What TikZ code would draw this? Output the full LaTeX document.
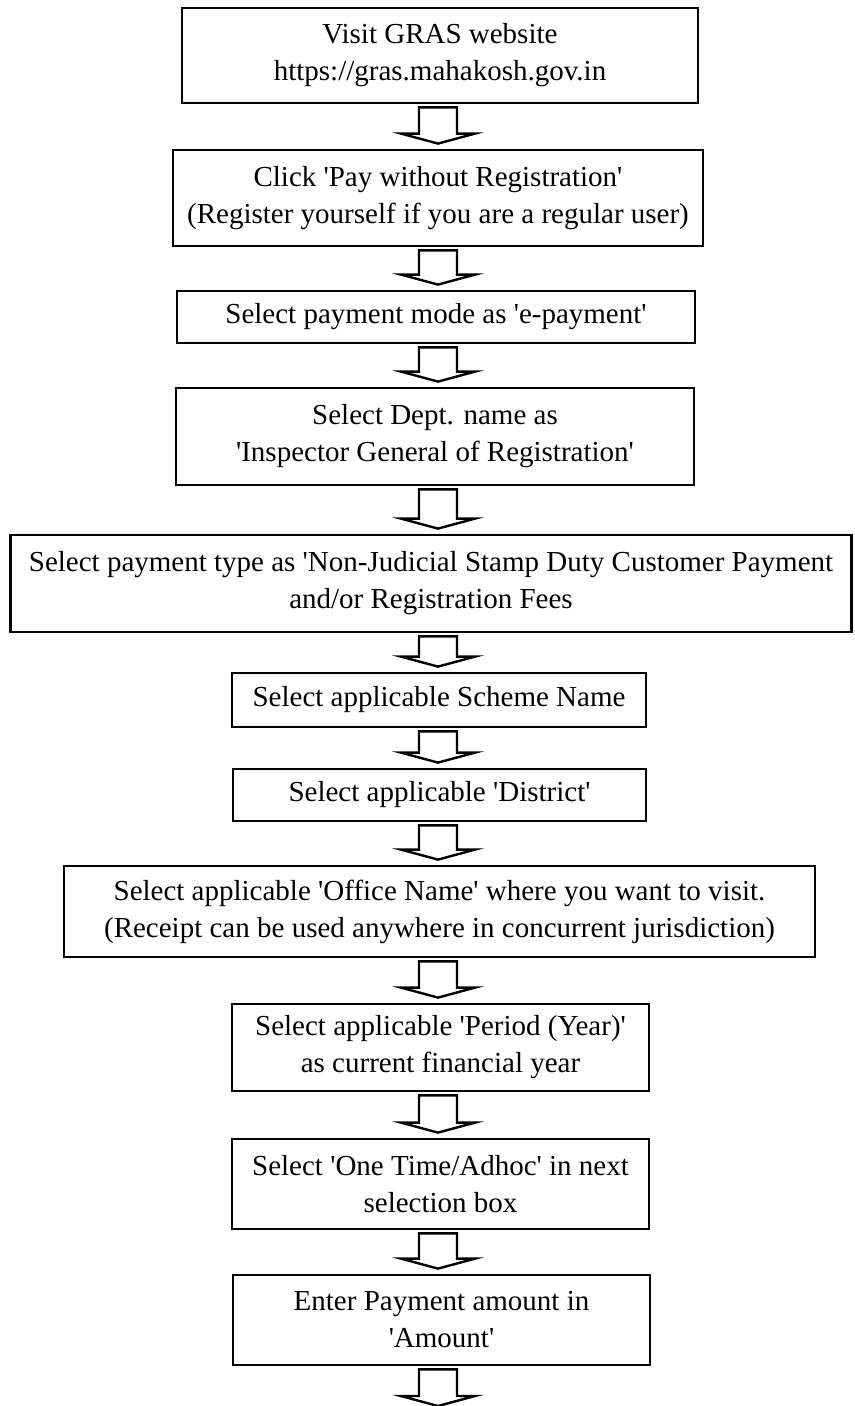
\documentclass[tikz,border=0pt]{standalone}
\usepackage{fontspec}
\setmainfont{Liberation Serif}[Ligatures=TeXOff]
\usetikzlibrary{calc}

\tikzset{
  stepbox/.style={draw, line width=1.4pt, align=center, inner sep=0pt, font=\fontsize{14.5}{18.5}\selectfont},
  blockarrow/.style={draw, line width=1.2pt, line join=miter},
}

\begin{document}
\begin{tikzpicture}[x=0.5pt,y=-0.5pt]
    \useasboundingbox (0,0) rectangle (855,1406);
    \coordinate (axis) at (438,0);

    % steps, top to bottom
    \node[stepbox, minimum width=258pt, minimum height=47.5pt] (visit) at (440,55.5) {Visit GRAS website\\https://gras.mahakosh.gov.in};
    \node[stepbox, minimum width=265pt, minimum height=48pt] (click) at (438,198) {Click 'Pay without Registration'\\(Register yourself if you are a regular user)};
    \node[stepbox, minimum width=259pt, minimum height=26pt] (mode) at (436,317) {Select payment mode as 'e-payment'};
    \node[stepbox, minimum width=259pt, minimum height=48.5pt] (dept) at (435,436.5) {Select Dept. name as\\'Inspector General of Registration'};
    \node[stepbox, minimum width=420.5pt, minimum height=48.5pt] (ptype) at (431,583.5) {Select payment type as 'Non-Judicial Stamp Duty Customer Payment\\and/or Registration Fees};
    \node[stepbox, minimum width=207pt, minimum height=27pt] (scheme) at (439,700) {Select applicable Scheme Name};
    \node[stepbox, minimum width=206.5pt, minimum height=26pt] (district) at (439.5,795) {Select applicable 'District'};
    \node[stepbox, minimum width=375.5pt, minimum height=45.5pt] (office) at (439.5,911.5) {Select applicable 'Office Name' where you want to visit.\\(Receipt can be used anywhere in concurrent jurisdiction)};
    \node[stepbox, minimum width=208.5pt, minimum height=43.5pt] (period) at (440.5,1047.5) {Select applicable 'Period (Year)'\\as current financial year};
    \node[stepbox, minimum width=208.5pt, minimum height=45pt] (onetime) at (440.5,1184) {Select 'One Time/Adhoc' in next\\selection box};
    \node[stepbox, minimum width=208.5pt, minimum height=45pt] (amount) at (441.5,1320) {Enter Payment amount in\\'Amount'};
    \coordinate (end) at (438,1411);

    % hollow block arrows
    \foreach \a/\b in {visit.south/click.north, click.south/mode.north, mode.south/dept.north,
                       dept.south/ptype.north, ptype.south/scheme.north, scheme.south/district.north,
                       district.south/office.north, office.south/period.north, period.south/onetime.north,
                       onetime.south/amount.north, amount.south/end}
        \draw[blockarrow] ($(\a -| axis)+(-19,3)$) -- ($(\a -| axis)+(19,3)$) -- ($(\b -| axis)+(19,-15)$)
            -- ($(\b -| axis)+(37,-15)$) -- ($(\b -| axis)+(0,-5)$) -- ($(\b -| axis)+(-37,-15)$)
            -- ($(\b -| axis)+(-19,-15)$) -- cycle;
\end{tikzpicture}
\end{document}
